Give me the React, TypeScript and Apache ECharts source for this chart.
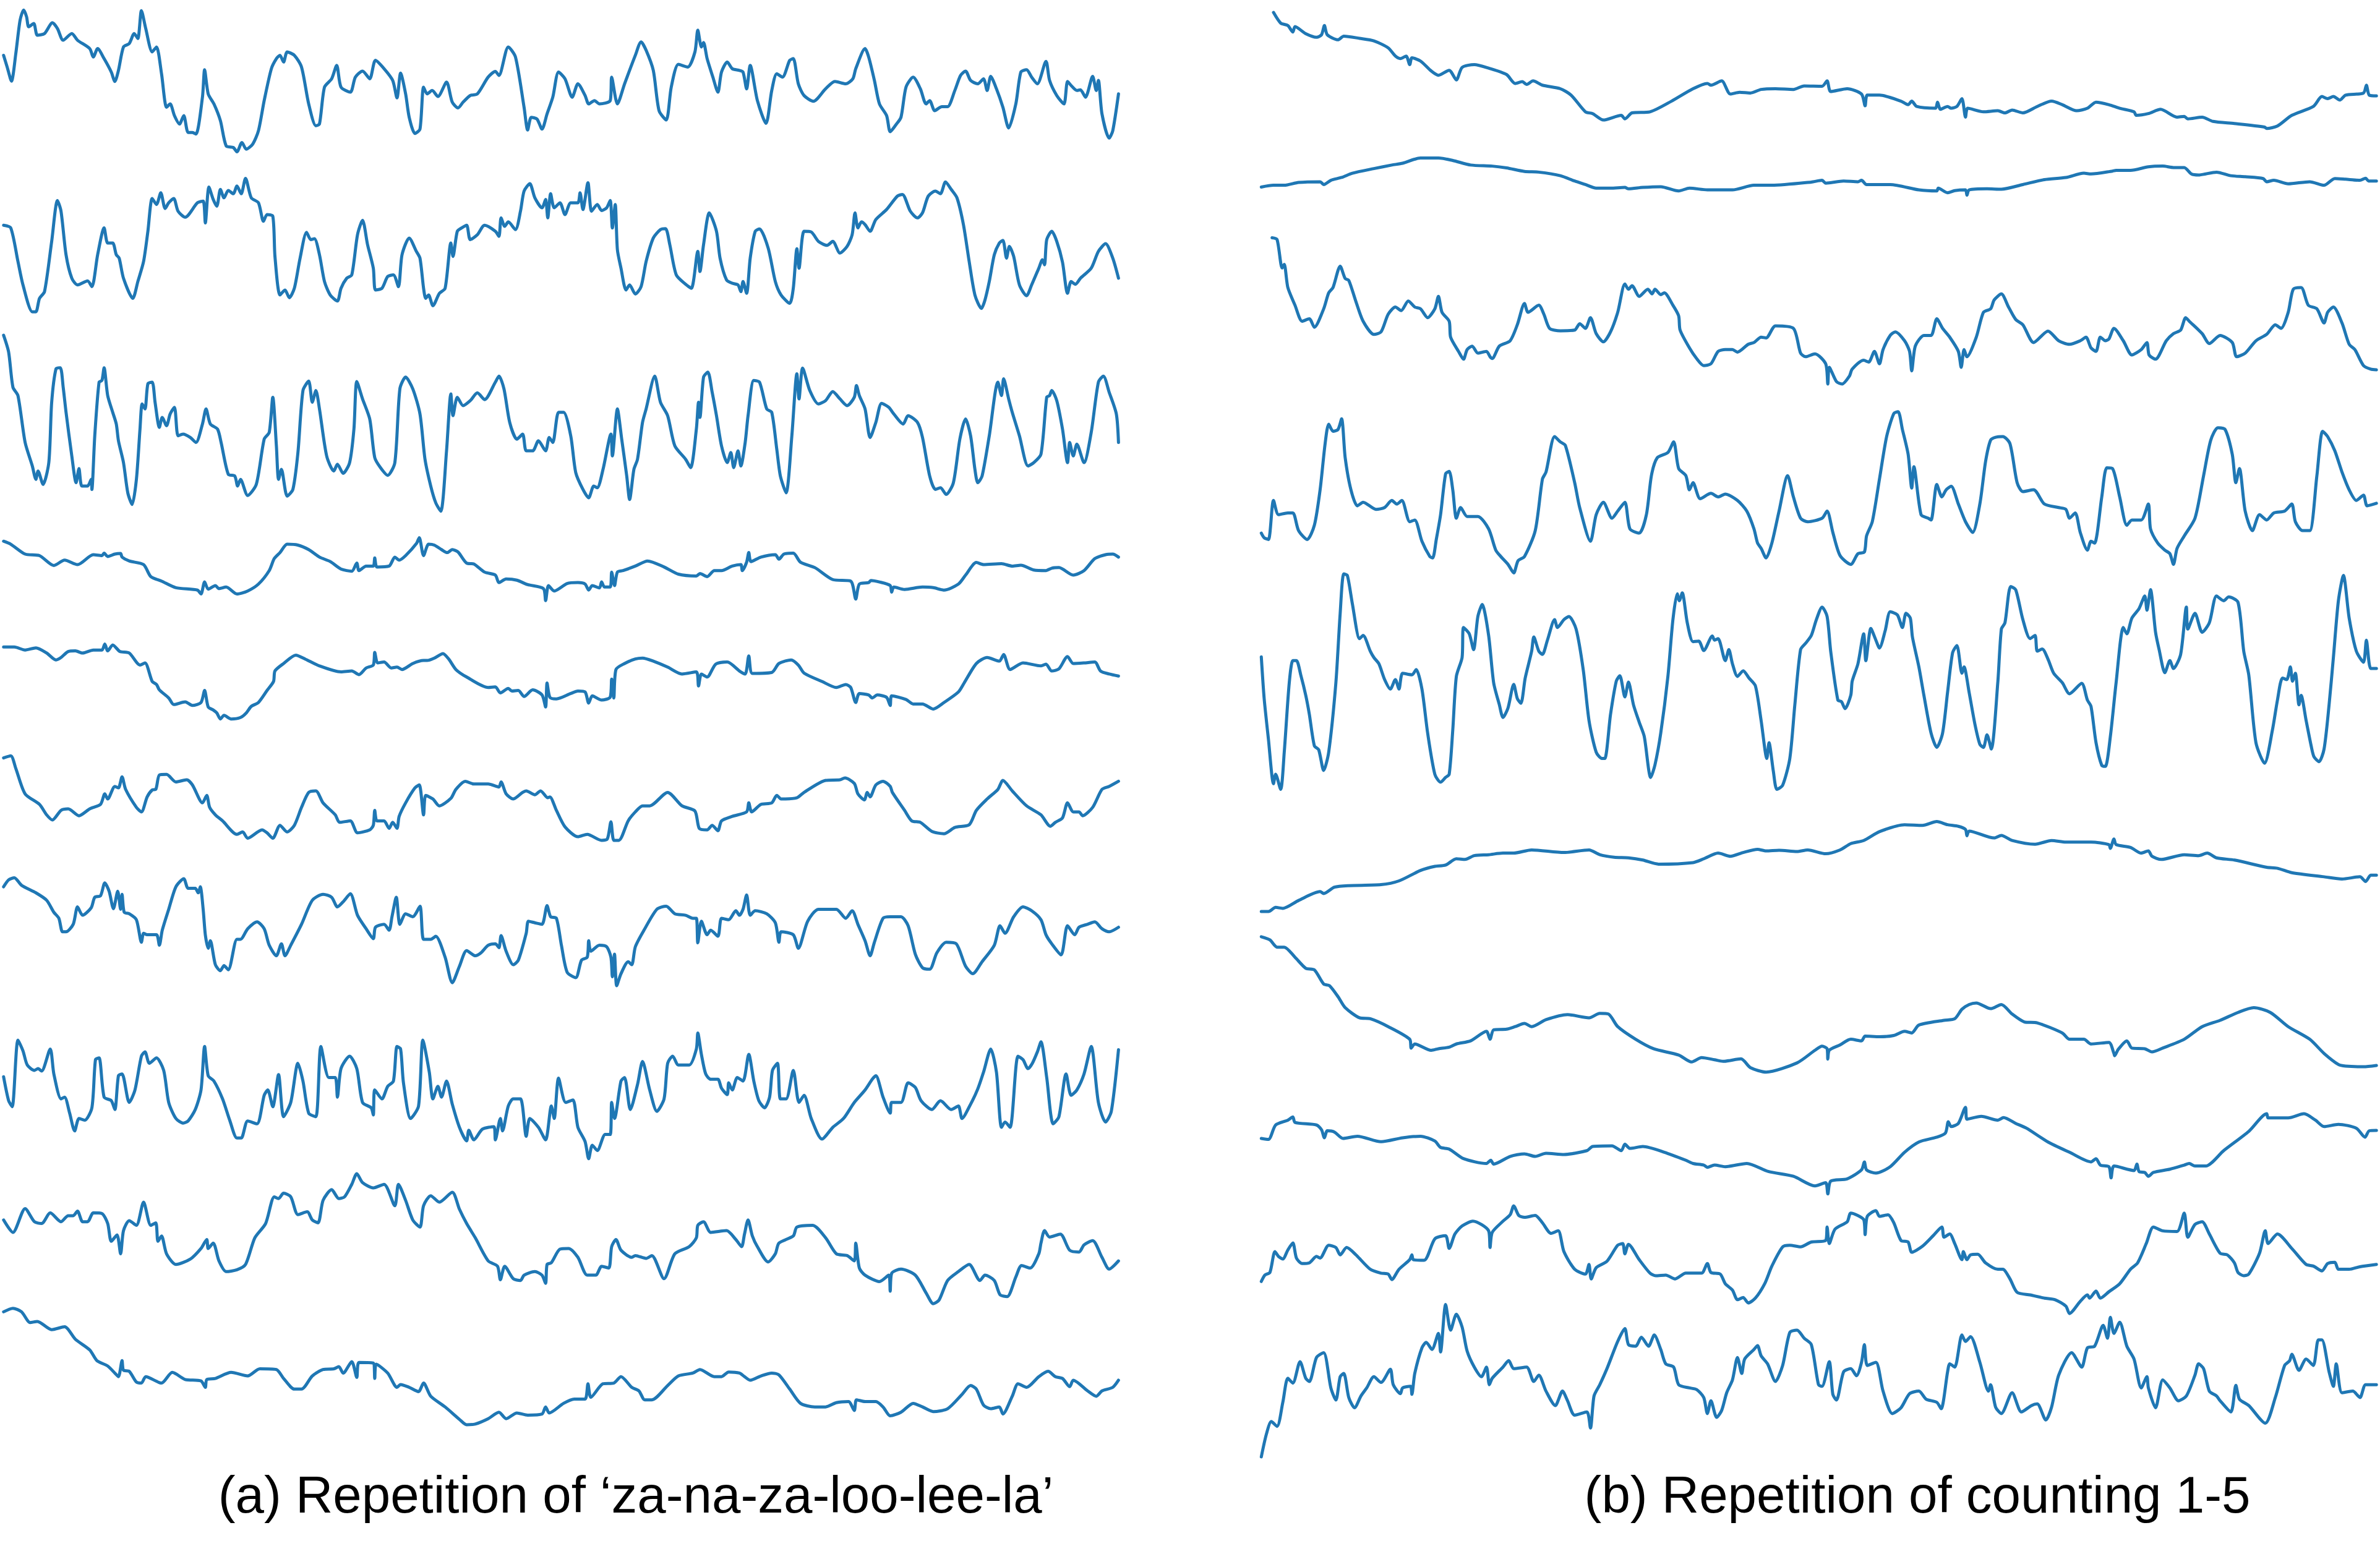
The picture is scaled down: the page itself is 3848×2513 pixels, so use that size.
import React, { useEffect, useRef } from "react";
import * as echarts from "echarts";

// Each trace: [time, deflection] pairs. Deflection grows downward (inverted axis).
const a1 = [[5,165],[10,200],[16,242],[22,160],[28,60],[33,30],[37,50],[40,80],[47,70],[52,105],[62,100],[73,68],[80,85],[88,120],[100,100],[108,120],[125,145],[130,170],[136,145],[145,175],[155,215],[160,243],[165,210],[172,140],[180,130],[187,100],[192,115],[197,32],[203,85],[212,155],[218,140],[225,220],[232,320],[237,310],[243,345],[250,370],[256,345],[262,395],[268,395],[273,400],[282,290],[285,208],[290,280],[298,310],[307,360],[315,435],[325,440],[330,453],[337,425],[343,445],[352,430],[360,390],[368,300],[378,205],[385,175],[390,165],[395,185],[400,155],[410,165],[420,200],[430,310],[440,375],[445,370],[452,260],[462,235],[469,195],[475,260],[488,275],[495,230],[505,212],[515,235],[523,180],[535,205],[547,240],[553,292],[558,218],[565,280],[570,350],[578,398],[585,385],[590,260],[595,280],[602,270],[610,288],[622,245],[630,305],[638,322],[645,305],[655,285],[665,280],[680,230],[690,213],[695,225],[708,140],[718,170],[730,320],[735,388],[740,350],[748,355],[755,385],[762,340],[770,290],[778,215],[787,235],[797,290],[805,250],[815,285],[820,310],[828,300],[835,310],[850,300],[852,230],[860,310],[870,250],[885,165],[893,125],[900,150],[910,210],[918,330],[928,358],[935,260],[945,192],[958,200],[968,155],[972,90],[977,140],[980,127],[985,175],[993,230],[1000,275],[1005,215],[1013,185],[1020,205],[1030,210],[1035,215],[1040,265],[1045,195],[1055,300],[1067,368],[1075,270],[1082,220],[1090,230],[1100,180],[1105,175],[1112,250],[1120,285],[1133,302],[1150,265],[1163,243],[1178,250],[1188,235],[1192,205],[1205,145],[1210,170],[1218,240],[1225,310],[1235,345],[1240,393],[1248,372],[1255,350],[1262,260],[1272,230],[1282,265],[1290,310],[1295,300],[1302,330],[1312,318],[1320,318],[1330,270],[1338,225],[1345,212],[1352,240],[1362,250],[1370,235],[1375,270],[1380,228],[1388,265],[1397,320],[1405,382],[1415,310],[1422,215],[1430,208],[1437,230],[1445,250],[1457,183],[1462,240],[1472,285],[1482,310],[1487,243],[1492,255],[1500,270],[1505,268],[1512,290],[1522,228],[1527,270],[1530,240],[1535,340],[1545,412],[1550,390],[1558,280]];
const a2 = [[5,672],[15,680],[25,780],[32,850],[45,930],[50,930],[55,890],[62,870],[72,720],[80,598],[85,630],[92,760],[100,830],[108,850],[122,838],[128,855],[136,760],[145,680],[150,725],[157,725],[162,760],[166,770],[172,830],[185,890],[192,840],[200,780],[206,690],[212,592],[218,610],[224,575],[230,622],[235,605],[242,592],[248,630],[258,648],[275,605],[283,600],[286,665],[291,558],[297,595],[302,615],[307,565],[312,590],[318,568],[325,578],[330,555],[336,578],[342,532],[350,590],[360,605],[367,660],[372,640],[380,645],[383,765],[390,880],[397,865],[403,888],[410,860],[418,770],[427,693],[433,715],[438,712],[445,760],[452,840],[460,880],[470,898],[475,860],[483,830],[490,820],[498,700],[505,657],[512,730],[520,800],[523,865],[532,860],[540,825],[548,820],[555,855],[560,760],[570,710],[580,750],[585,770],[590,860],[593,890],[597,880],[603,912],[612,875],[620,860],[628,725],[631,765],[637,690],[643,680],[650,672],[655,715],[665,700],[675,672],[690,690],[695,705],[698,650],[703,675],[708,662],[718,685],[725,630],[730,570],[738,548],[745,590],[755,620],[760,595],[763,650],[767,578],[772,620],[780,605],[787,640],[795,605],[805,605],[808,575],[812,625],[819,545],[824,630],[832,610],[838,628],[845,620],[850,598],[853,680],[857,610],[860,745],[865,800],[872,865],[877,850],[885,877],[893,855],[900,780],[910,710],[920,685],[927,682],[933,730],[942,820],[955,848],[963,860],[972,750],[975,810],[980,730],[988,635],[998,690],[1003,770],[1012,835],[1020,845],[1028,850],[1032,870],[1035,840],[1040,875],[1045,770],[1052,690],[1058,683],[1070,740],[1080,840],[1088,880],[1100,905],[1105,860],[1110,742],[1113,800],[1120,690],[1130,692],[1140,720],[1152,732],[1160,720],[1170,755],[1180,735],[1187,700],[1191,635],[1195,680],[1200,662],[1205,670],[1212,690],[1220,655],[1235,625],[1250,585],[1257,580],[1268,630],[1278,650],[1285,635],[1293,585],[1303,570],[1310,578],[1317,543],[1325,565],[1333,590],[1342,670],[1350,780],[1358,880],[1367,920],[1372,895],[1378,840],[1385,760],[1392,725],[1397,717],[1402,770],[1406,735],[1412,765],[1420,850],[1430,882],[1437,850],[1447,800],[1452,775],[1455,790],[1458,715],[1465,690],[1472,720],[1480,782],[1487,875],[1492,840],[1498,848],[1505,830],[1520,800],[1530,750],[1540,727],[1550,770],[1558,830]];
const a3 = [[5,1000],[12,1050],[18,1155],[25,1180],[35,1320],[45,1390],[50,1430],[53,1405],[60,1445],[68,1380],[72,1200],[78,1100],[84,1097],[88,1155],[92,1230],[100,1360],[106,1440],[110,1398],[114,1450],[122,1450],[127,1430],[128,1460],[132,1300],[138,1140],[142,1135],[145,1097],[150,1180],[157,1230],[162,1265],[165,1315],[172,1380],[178,1470],[184,1505],[190,1430],[195,1280],[198,1205],[202,1220],[206,1145],[212,1140],[216,1200],[222,1275],[226,1245],[232,1270],[237,1235],[243,1215],[248,1300],[255,1295],[265,1305],[273,1320],[282,1265],[287,1220],[293,1265],[303,1280],[308,1320],[318,1415],[327,1420],[331,1450],[335,1430],[345,1478],[357,1445],[368,1310],[375,1290],[380,1185],[385,1330],[388,1430],[392,1400],[400,1480],[408,1460],[415,1350],[422,1165],[430,1137],[435,1200],[440,1165],[445,1220],[455,1360],[465,1405],[470,1385],[478,1412],[487,1380],[493,1280],[497,1138],[505,1190],[515,1250],[522,1365],[530,1395],[540,1418],[550,1380],[557,1160],[565,1125],[575,1160],[585,1235],[592,1370],[600,1450],[607,1500],[614,1525],[622,1345],[628,1175],[631,1240],[637,1185],[645,1210],[655,1195],[665,1172],[675,1192],[690,1140],[695,1122],[702,1160],[710,1260],[720,1310],[728,1295],[733,1345],[742,1345],[750,1315],[760,1345],[765,1305],[770,1320],[778,1230],[785,1230],[795,1300],[802,1410],[812,1460],[820,1485],[827,1450],[832,1455],[840,1400],[851,1295],[853,1360],[860,1220],[866,1310],[873,1420],[877,1490],[883,1400],[888,1370],[895,1260],[900,1220],[912,1122],[920,1200],[930,1240],[940,1330],[955,1370],[962,1395],[970,1280],[973,1200],[975,1245],[980,1125],[986,1110],[992,1170],[998,1240],[1005,1330],[1013,1380],[1018,1350],[1022,1395],[1028,1345],[1032,1390],[1038,1320],[1042,1240],[1050,1135],[1058,1140],[1068,1220],[1075,1230],[1082,1340],[1087,1420],[1095,1470],[1103,1300],[1110,1115],[1113,1190],[1118,1098],[1128,1165],[1140,1205],[1150,1195],[1160,1168],[1170,1190],[1180,1210],[1190,1185],[1193,1150],[1197,1180],[1205,1220],[1212,1305],[1220,1260],[1228,1203],[1238,1215],[1245,1235],[1258,1265],[1265,1240],[1278,1260],[1285,1305],[1295,1420],[1303,1460],[1310,1455],[1318,1475],[1328,1440],[1337,1310],[1345,1250],[1352,1300],[1358,1400],[1362,1440],[1368,1420],[1378,1300],[1390,1140],[1395,1180],[1398,1130],[1405,1190],[1410,1230],[1420,1300],[1432,1390],[1440,1380],[1450,1355],[1458,1185],[1462,1180],[1465,1165],[1472,1195],[1480,1280],[1487,1380],[1490,1320],[1495,1360],[1500,1325],[1510,1380],[1520,1290],[1530,1140],[1537,1122],[1545,1170],[1555,1235],[1558,1320]];
const a4 = [[5,52],[15,62],[35,95],[55,100],[75,133],[90,115],[108,130],[130,97],[142,100],[145,92],[150,103],[160,95],[168,93],[170,105],[180,118],[200,130],[210,170],[225,185],[245,207],[275,215],[280,228],[285,188],[290,212],[300,200],[305,210],[315,205],[330,228],[345,218],[360,195],[375,150],[382,110],[390,90],[400,62],[415,65],[430,80],[445,105],[460,120],[475,145],[490,152],[497,125],[500,150],[510,135],[520,135],[522,108],[525,138],[542,135],[550,105],[556,115],[565,100],[580,60],[584,40],[590,100],[597,62],[605,65],[615,80],[623,90],[630,80],[638,88],[650,125],[660,128],[675,155],[690,165],[695,190],[705,178],[720,182],[735,197],[757,210],[760,250],[764,200],[772,218],[790,193],[805,190],[815,195],[820,215],[825,200],[835,208],[838,188],[842,205],[850,205],[852,155],[856,200],[860,155],[868,150],[885,135],[902,118],[925,138],[945,162],[970,168],[975,160],[985,170],[995,150],[1005,150],[1020,135],[1032,130],[1034,150],[1040,122],[1043,90],[1046,120],[1060,105],[1080,97],[1085,112],[1092,95],[1105,92],[1115,122],[1135,140],[1160,180],[1185,185],[1192,245],[1197,195],[1210,190],[1213,183],[1225,188],[1240,200],[1242,222],[1245,205],[1260,213],[1285,205],[1300,207],[1315,215],[1335,195],[1345,165],[1360,123],[1370,130],[1395,127],[1410,135],[1422,132],[1440,148],[1457,150],[1465,142],[1475,140],[1495,165],[1510,150],[1525,110],[1540,97],[1550,95],[1558,105]];
const a5 = [[5,405],[20,405],[35,415],[50,408],[65,425],[78,448],[85,440],[95,420],[105,418],[115,425],[130,415],[142,415],[146,395],[150,418],[157,398],[167,420],[180,425],[195,465],[202,458],[212,520],[218,530],[222,548],[235,575],[242,597],[258,588],[268,600],[280,590],[285,550],[290,605],[297,615],[302,625],[307,645],[312,633],[322,645],[335,640],[343,625],[350,603],[360,590],[372,550],[381,520],[383,485],[395,460],[412,432],[425,445],[445,468],[475,488],[490,485],[500,497],[510,475],[520,465],[522,423],[526,458],[535,455],[545,475],[553,472],[560,480],[575,460],[590,450],[595,450],[605,442],[617,427],[625,445],[635,480],[650,505],[680,540],[690,538],[697,558],[708,543],[713,552],[722,550],[730,570],[742,548],[755,565],[760,605],[762,525],[766,573],[775,578],[795,560],[805,552],[815,555],[820,592],[825,568],[838,582],[850,572],[852,512],[855,575],[858,480],[870,460],[885,445],[895,442],[910,452],[930,472],[950,495],[970,488],[973,535],[977,495],[985,505],[997,462],[1013,455],[1030,485],[1038,495],[1043,435],[1048,493],[1075,490],[1085,460],[1102,448],[1112,465],[1120,492],[1145,520],[1165,540],[1178,530],[1185,540],[1192,590],[1197,560],[1210,565],[1215,575],[1222,565],[1235,573],[1240,600],[1242,568],[1262,580],[1272,595],[1285,595],[1300,612],[1315,590],[1335,555],[1343,525],[1360,460],[1375,440],[1392,452],[1398,430],[1407,480],[1425,458],[1450,468],[1457,462],[1465,485],[1475,478],[1487,437],[1495,460],[1510,458],[1525,455],[1533,485],[1545,495],[1558,502]];
const a6 = [[5,775],[15,768],[22,810],[35,895],[55,930],[65,965],[73,982],[85,950],[95,945],[110,968],[125,945],[140,930],[146,895],[150,912],[160,870],[165,875],[170,838],[175,880],[190,940],[197,955],[205,905],[212,882],[217,880],[222,832],[232,830],[245,855],[260,848],[268,865],[282,925],[288,900],[292,940],[300,965],[310,985],[330,1030],[338,1022],[345,1043],[365,1015],[372,1025],[380,1043],[390,1000],[400,1022],[410,1000],[420,940],[430,890],[440,885],[450,925],[467,965],[473,990],[488,985],[498,1025],[515,1015],[520,1000],[522,950],[525,985],[535,985],[542,1010],[547,990],[553,1010],[556,970],[565,925],[578,875],[584,865],[590,965],[593,900],[603,912],[612,935],[628,910],[635,880],[648,853],[660,862],[680,862],[695,872],[698,855],[705,895],[715,912],[728,890],[733,885],[745,898],[753,885],[763,908],[766,905],[775,950],[787,1005],[805,1038],[818,1030],[838,1050],[846,1045],[851,988],[855,1050],[862,1050],[875,985],[885,955],[895,935],[905,935],[930,890],[950,935],[968,952],[974,1010],[985,1015],[992,1000],[1000,1018],[1005,985],[1020,970],[1040,955],[1043,925],[1047,955],[1060,930],[1075,925],[1082,900],[1088,912],[1110,908],[1120,890],[1150,850],[1170,848],[1177,842],[1190,860],[1195,895],[1204,915],[1208,890],[1212,905],[1220,865],[1230,853],[1240,870],[1243,890],[1260,950],[1270,985],[1282,990],[1298,1020],[1315,1028],[1330,1007],[1350,998],[1360,950],[1375,912],[1390,880],[1397,850],[1410,885],[1430,935],[1450,965],[1463,1003],[1470,990],[1480,975],[1487,925],[1495,955],[1503,955],[1508,968],[1522,940],[1535,880],[1545,870],[1558,853]];
const a7 = [[5,1205],[12,1182],[20,1175],[30,1200],[50,1225],[65,1250],[75,1290],[82,1310],[87,1355],[92,1355],[102,1330],[108,1272],[115,1300],[127,1275],[132,1240],[140,1235],[146,1192],[152,1220],[158,1278],[164,1220],[168,1280],[170,1230],[173,1290],[180,1295],[190,1315],[197,1390],[200,1360],[205,1365],[218,1365],[222,1400],[226,1350],[235,1280],[245,1205],[256,1178],[262,1210],[272,1210],[276,1225],[279,1205],[283,1280],[286,1365],[290,1410],[293,1385],[300,1465],[307,1485],[312,1468],[318,1482],[330,1380],[335,1380],[345,1345],[358,1322],[368,1345],[375,1400],[385,1435],[392,1395],[397,1435],[405,1400],[420,1330],[435,1250],[450,1230],[462,1240],[470,1272],[478,1255],[488,1228],[498,1300],[510,1345],[520,1378],[523,1340],[535,1330],[542,1350],[546,1305],[552,1240],[557,1330],[565,1295],[575,1305],[585,1270],[590,1380],[600,1380],[607,1370],[620,1440],[630,1525],[640,1470],[650,1418],[662,1435],[670,1425],[680,1400],[690,1395],[695,1408],[698,1368],[705,1420],[715,1465],[722,1450],[733,1360],[736,1320],[745,1325],[755,1330],[762,1268],[767,1305],[775,1310],[782,1400],[790,1490],[802,1508],[810,1450],[818,1440],[820,1385],[823,1420],[835,1400],[845,1405],[851,1440],[853,1505],[856,1430],[859,1535],[865,1495],[875,1455],[880,1465],[885,1405],[897,1350],[915,1280],[928,1270],[940,1295],[955,1300],[965,1310],[970,1310],[972,1392],[977,1320],[985,1365],[990,1350],[1000,1370],[1005,1310],[1015,1315],[1025,1285],[1030,1300],[1035,1280],[1040,1232],[1045,1300],[1052,1285],[1068,1295],[1080,1325],[1085,1390],[1088,1355],[1105,1365],[1112,1410],[1125,1320],[1140,1280],[1165,1280],[1178,1310],[1187,1285],[1195,1330],[1205,1385],[1212,1435],[1218,1390],[1230,1310],[1240,1305],[1255,1305],[1265,1335],[1275,1430],[1285,1475],[1295,1480],[1305,1425],[1318,1390],[1332,1395],[1345,1470],[1355,1495],[1368,1455],[1385,1400],[1393,1335],[1400,1360],[1412,1305],[1425,1272],[1437,1285],[1450,1315],[1457,1365],[1465,1395],[1478,1432],[1487,1335],[1497,1365],[1503,1340],[1515,1330],[1525,1322],[1535,1345],[1545,1355],[1558,1340]];
const a8 = [[5,228],[12,295],[17,312],[25,125],[32,155],[38,195],[48,210],[53,205],[58,212],[70,150],[75,220],[85,290],[90,285],[97,330],[104,380],[110,345],[118,350],[128,315],[133,180],[138,175],[145,285],[155,295],[160,320],[165,225],[170,220],[180,300],[188,265],[197,170],[202,158],[208,190],[218,175],[228,210],[235,300],[245,345],[255,358],[262,352],[272,320],[280,265],[285,143],[290,225],[298,240],[310,290],[320,350],[330,400],[336,400],[345,352],[358,360],[368,280],[373,265],[380,312],[388,222],[395,340],[405,300],[415,190],[422,240],[430,330],[440,340],[447,143],[458,230],[467,230],[470,285],[475,205],[487,170],[497,205],[505,300],[517,315],[520,335],[522,265],[532,290],[540,255],[548,240],[553,143],[558,150],[562,245],[572,345],[583,310],[589,125],[598,215],[603,290],[610,255],[615,285],[622,240],[630,305],[640,370],[650,408],[653,378],[660,405],[672,375],[688,368],[690,405],[697,345],[700,380],[708,310],[715,290],[725,290],[733,395],[738,345],[750,370],[760,405],[768,310],[772,345],[778,232],[788,300],[798,293],[805,370],[815,410],[820,458],[825,420],[832,435],[843,390],[850,390],[852,300],[856,345],[865,240],[870,230],[878,320],[888,250],[895,185],[905,265],[915,325],[925,290],[930,190],[937,170],[945,195],[960,195],[970,150],[972,105],[977,165],[983,220],[990,235],[1000,235],[1005,260],[1013,278],[1015,245],[1020,265],[1027,230],[1035,240],[1043,165],[1050,240],[1057,295],[1065,315],[1072,285],[1076,210],[1083,190],[1087,290],[1095,290],[1105,210],[1113,300],[1120,280],[1130,345],[1145,403],[1160,370],[1175,345],[1190,300],[1205,265],[1215,235],[1220,225],[1230,285],[1240,330],[1242,300],[1255,300],[1265,245],[1275,258],[1283,295],[1298,320],[1310,295],[1325,320],[1335,310],[1340,345],[1352,305],[1362,262],[1370,215],[1380,150],[1388,215],[1395,370],[1400,355],[1407,370],[1418,170],[1425,180],[1432,205],[1438,190],[1445,158],[1450,130],[1458,230],[1467,360],[1475,340],[1485,220],[1492,280],[1500,265],[1510,220],[1520,143],[1530,300],[1540,355],[1548,325],[1558,152]];
const a9 = [[5,630],[18,665],[35,598],[48,635],[58,640],[70,610],[85,635],[95,618],[102,618],[108,605],[115,635],[122,635],[130,610],[142,612],[150,640],[155,690],[163,672],[168,725],[172,660],[180,632],[190,645],[200,580],[210,645],[217,638],[220,690],[225,675],[232,725],[245,755],[265,740],[280,710],[288,685],[290,710],[297,695],[305,745],[315,775],[330,770],[342,755],[355,680],[370,640],[382,565],[388,570],[395,555],[405,565],[415,615],[428,607],[435,630],[443,638],[450,575],[462,545],[472,570],[480,565],[490,530],[497,500],[505,525],[520,540],[535,530],[550,590],[555,530],[565,575],[575,630],[585,650],[590,590],[600,562],[612,580],[630,552],[640,600],[650,640],[662,680],[680,745],[693,760],[697,798],[703,760],[715,795],[725,800],[730,785],[745,775],[755,785],[760,808],[762,755],[768,750],[780,712],[792,710],[805,735],[818,785],[830,785],[838,760],[848,765],[852,705],[858,685],[865,715],[880,735],[885,730],[900,738],[908,730],[925,795],[940,725],[960,705],[970,680],[972,645],[980,635],[990,665],[1012,660],[1025,685],[1033,705],[1037,670],[1042,630],[1048,675],[1055,705],[1070,748],[1080,725],[1085,695],[1105,675],[1110,650],[1132,645],[1150,680],[1165,725],[1180,730],[1190,745],[1192,695],[1197,765],[1205,785],[1225,803],[1238,785],[1240,830],[1242,780],[1255,768],[1275,785],[1290,835],[1300,865],[1308,855],[1320,800],[1335,775],[1350,755],[1365,800],[1372,785],[1385,800],[1393,840],[1403,845],[1415,790],[1423,758],[1435,765],[1447,725],[1450,695],[1455,660],[1462,678],[1477,670],[1490,715],[1503,720],[1510,700],[1522,688],[1535,735],[1545,768],[1558,745]];
const a10 = [[5,888],[18,878],[30,888],[42,918],[52,915],[72,938],[90,930],[105,965],[125,995],[135,1025],[150,1040],[160,1060],[165,1070],[170,1025],[172,1052],[180,1055],[190,1085],[197,1088],[203,1070],[225,1088],[240,1058],[258,1078],[280,1082],[286,1100],[288,1078],[300,1075],[322,1058],[345,1068],[362,1048],[385,1050],[395,1075],[410,1105],[420,1105],[435,1068],[450,1050],[465,1048],[472,1042],[478,1060],[490,1028],[497,1072],[500,1030],[520,1032],[522,1075],[524,1035],[540,1060],[553,1100],[558,1092],[570,1100],[583,1112],[590,1088],[600,1125],[620,1155],[640,1190],[650,1205],[662,1203],[680,1188],[695,1170],[705,1188],[720,1172],[735,1178],[755,1175],[760,1155],[765,1172],[785,1145],[800,1133],[815,1133],[819,1090],[823,1128],[840,1090],[855,1088],[865,1070],[880,1100],[890,1110],[898,1135],[908,1135],[930,1095],[945,1068],[965,1060],[975,1050],[995,1070],[1005,1070],[1015,1057],[1030,1060],[1037,1070],[1045,1080],[1060,1068],[1075,1060],[1085,1065],[1100,1105],[1115,1145],[1135,1155],[1150,1155],[1165,1143],[1182,1140],[1190,1165],[1193,1135],[1205,1140],[1220,1140],[1230,1155],[1240,1180],[1255,1170],[1272,1145],[1285,1155],[1300,1168],[1320,1160],[1340,1120],[1352,1095],[1360,1105],[1370,1150],[1380,1160],[1392,1155],[1397,1175],[1410,1125],[1418,1090],[1430,1100],[1447,1070],[1460,1055],[1470,1070],[1480,1075],[1490,1098],[1495,1080],[1515,1110],[1527,1125],[1535,1110],[1550,1100],[1558,1080]];
const b1 = [[25,35],[35,65],[45,72],[52,90],[55,75],[70,95],[85,105],[92,98],[96,72],[100,98],[115,112],[123,102],[145,108],[165,115],[185,135],[195,158],[202,165],[210,158],[215,182],[218,163],[230,172],[245,200],[255,212],[270,198],[280,225],[288,190],[305,182],[325,192],[350,210],[362,235],[372,230],[378,238],[387,228],[400,240],[425,250],[440,268],[460,315],[470,320],[485,338],[510,325],[515,335],[525,318],[550,315],[580,285],[610,250],[630,235],[635,240],[650,228],[662,265],[675,260],[690,262],[705,252],[725,250],[750,252],[765,242],[790,243],[797,228],[802,258],[825,250],[845,265],[850,298],[853,268],[870,268],[900,285],[910,295],[915,285],[922,300],[948,305],[951,288],[955,308],[965,300],[970,305],[978,300],[985,278],[990,330],[993,305],[1015,315],[1035,312],[1045,318],[1055,310],[1070,318],[1090,300],[1110,285],[1125,295],[1145,312],[1160,305],[1172,288],[1190,295],[1205,305],[1225,315],[1228,325],[1245,320],[1262,308],[1285,330],[1295,328],[1300,335],[1320,330],[1335,342],[1365,348],[1407,358],[1410,362],[1425,355],[1445,325],[1475,300],[1487,272],[1495,278],[1503,272],[1512,282],[1520,268],[1545,262],[1549,240],[1553,268],[1563,270]];
const b2 = [[8,527],[25,522],[40,522],[60,514],[90,512],[95,520],[105,508],[120,500],[135,488],[165,475],[190,465],[205,460],[230,445],[255,445],[275,452],[300,465],[330,468],[350,473],[375,483],[395,485],[425,495],[445,510],[460,520],[475,530],[495,530],[515,528],[520,532],[540,528],[565,526],[590,538],[605,530],[630,535],[665,535],[695,522],[720,522],[775,513],[790,508],[795,516],[820,510],[840,512],[845,508],[852,520],[885,520],[925,535],[950,538],[952,530],[965,543],[975,537],[990,535],[992,550],[995,535],[1020,532],[1040,533],[1070,520],[1100,506],[1130,500],[1155,488],[1165,490],[1195,482],[1200,480],[1220,480],[1245,470],[1265,468],[1280,472],[1295,472],[1305,490],[1315,493],[1340,485],[1360,495],[1380,498],[1405,503],[1410,512],[1420,508],[1440,518],[1470,512],[1490,522],[1505,503],[1520,505],[1540,508],[1548,502],[1552,510],[1563,510]];
const b3 = [[23,670],[30,675],[37,755],[40,745],[45,810],[55,860],[65,905],[75,898],[82,922],[95,870],[102,825],[108,810],[118,750],[125,785],[130,790],[140,850],[150,905],[165,942],[175,935],[185,885],[195,865],[203,875],[213,848],[222,865],[230,870],[240,895],[250,870],[255,835],[260,880],[270,905],[272,950],[283,990],[290,1012],[295,985],[302,975],[310,995],[322,990],[327,1005],[330,1010],[340,975],[355,960],[365,915],[375,855],[380,880],[395,860],[402,885],[410,925],[425,932],[445,930],[452,912],[460,925],[467,895],[475,940],[485,963],[495,935],[505,880],[515,800],[520,815],[525,805],[535,835],[547,815],[553,828],[557,815],[565,830],[570,825],[582,860],[590,890],[592,930],[605,980],[615,1010],[625,1030],[635,1025],[645,990],[655,985],[665,985],[672,992],[687,970],[695,965],[705,950],[712,952],[725,918],[750,925],[760,995],[767,1005],[780,997],[795,1025],[798,1082],[800,1035],[810,1075],[818,1082],[828,1060],[832,1040],[848,1015],[855,1020],[863,990],[870,1025],[875,985],[885,945],[892,935],[905,960],[912,990],[915,1045],[920,975],[932,945],[942,945],[950,898],[958,925],[968,950],[980,990],[984,1035],[988,985],[992,1005],[1005,950],[1015,880],[1025,870],[1030,845],[1040,828],[1050,865],[1060,900],[1070,915],[1085,965],[1105,933],[1120,960],[1135,970],[1150,960],[1158,950],[1165,980],[1172,990],[1178,950],[1185,960],[1190,955],[1197,925],[1210,960],[1222,1000],[1235,985],[1243,965],[1246,1000],[1255,1012],[1270,960],[1280,940],[1290,930],[1297,895],[1302,905],[1320,940],[1330,968],[1345,945],[1362,965],[1368,1005],[1380,995],[1395,960],[1410,942],[1422,915],[1430,925],[1440,880],[1447,815],[1458,810],[1468,860],[1480,870],[1490,910],[1495,880],[1503,865],[1515,910],[1525,970],[1533,985],[1545,1030],[1555,1040],[1563,1042]];
const b4 = [[8,1502],[12,1515],[18,1520],[25,1410],[32,1450],[45,1445],[52,1445],[60,1495],[72,1520],[82,1480],[90,1380],[97,1250],[102,1195],[108,1215],[115,1210],[120,1180],[125,1290],[133,1380],[142,1425],[150,1415],[168,1435],[180,1430],[190,1410],[197,1420],[204,1410],[215,1470],[222,1465],[232,1525],[243,1568],[247,1572],[252,1520],[258,1450],[265,1335],[270,1328],[275,1380],[280,1460],[286,1430],[295,1455],[310,1455],[325,1490],[335,1550],[342,1568],[352,1590],[360,1614],[366,1580],[375,1568],[390,1495],[400,1350],[405,1330],[417,1230],[425,1245],[432,1255],[445,1360],[452,1430],[467,1525],[475,1450],[485,1415],[497,1460],[505,1440],[515,1415],[522,1490],[535,1502],[545,1450],[552,1340],[560,1290],[575,1275],[583,1245],[590,1320],[600,1340],[605,1380],[610,1360],[620,1405],[635,1390],[645,1400],[655,1392],[672,1410],[685,1440],[695,1490],[700,1530],[705,1545],[712,1572],[720,1530],[730,1440],[742,1340],[750,1400],[760,1460],[770,1470],[790,1460],[797,1440],[805,1500],[815,1565],[830,1590],[840,1560],[849,1555],[852,1510],[860,1470],[870,1350],[880,1230],[890,1165],[896,1160],[902,1210],[910,1280],[915,1375],[918,1315],[928,1450],[938,1460],[942,1465],[950,1365],[957,1400],[963,1380],[970,1370],[980,1420],[990,1470],[1000,1500],[1010,1420],[1018,1300],[1025,1240],[1032,1232],[1042,1230],[1052,1250],[1062,1360],[1070,1385],[1085,1380],[1100,1420],[1120,1430],[1130,1435],[1135,1460],[1143,1445],[1150,1500],[1160,1550],[1165,1525],[1170,1530],[1180,1400],[1187,1318],[1195,1320],[1205,1400],[1215,1480],[1222,1465],[1235,1465],[1245,1420],[1248,1490],[1258,1530],[1268,1550],[1275,1560],[1280,1590],[1285,1545],[1295,1510],[1310,1460],[1322,1340],[1332,1240],[1342,1205],[1352,1210],[1362,1280],[1367,1360],[1372,1320],[1380,1440],[1390,1495],[1400,1450],[1410,1465],[1420,1445],[1435,1440],[1445,1420],[1450,1470],[1460,1495],[1470,1495],[1480,1340],[1488,1215],[1495,1230],[1505,1270],[1515,1330],[1525,1380],[1535,1410],[1545,1395],[1550,1425],[1563,1418]];
const b5 = [[8,318],[12,450],[18,580],[25,720],[28,690],[35,738],[40,620],[47,400],[52,330],[57,330],[63,375],[70,440],[75,500],[82,600],[88,612],[95,678],[102,620],[112,400],[118,180],[123,55],[128,60],[135,150],[145,260],[150,250],[160,300],[165,320],[172,340],[180,390],[188,420],[195,390],[200,420],[205,370],[218,375],[224,358],[232,420],[240,560],[250,690],[258,715],[265,700],[270,690],[275,550],[280,380],[288,320],[290,225],[298,245],[304,295],[310,190],[316,152],[325,250],[332,400],[340,470],[345,510],[352,480],[360,405],[365,450],[370,465],[376,385],[385,300],[388,255],[395,300],[400,310],[407,265],[417,200],[421,225],[430,200],[437,190],[447,230],[457,360],[465,520],[475,620],[483,640],[487,640],[495,500],[503,395],[508,378],[515,445],[520,398],[527,470],[535,525],[542,570],[551,700],[557,660],[565,560],[575,380],[582,200],[588,118],[591,140],[595,115],[602,210],[610,270],[618,268],[625,298],[637,252],[640,265],[645,260],[655,330],[660,295],[665,340],[672,380],[680,362],[688,385],[697,410],[705,520],[713,640],[716,590],[722,680],[727,738],[735,725],[745,640],[752,470],[760,295],[767,275],[775,250],[782,200],[790,160],[797,190],[802,300],[812,455],[817,460],[822,482],[830,440],[832,395],[840,340],[848,245],[851,330],[858,228],[865,265],[870,290],[878,235],[885,175],[895,185],[902,225],[907,180],[913,195],[916,255],[925,350],[932,440],[942,560],[950,605],[958,560],[965,430],[972,305],[978,282],[985,370],[988,350],[995,430],[1003,530],[1010,595],[1015,605],[1020,565],[1026,610],[1035,400],[1040,230],[1045,210],[1053,95],[1060,105],[1070,200],[1080,260],[1087,250],[1090,300],[1097,293],[1105,325],[1113,370],[1125,400],[1135,435],[1152,402],[1160,455],[1165,475],[1172,590],[1180,662],[1185,665],[1192,570],[1200,400],[1210,225],[1215,245],[1222,195],[1232,165],[1240,125],[1243,170],[1248,105],[1255,240],[1260,295],[1268,368],[1275,330],[1280,355],[1290,310],[1298,160],[1300,230],[1310,180],[1320,240],[1330,210],[1340,125],[1350,140],[1357,128],[1370,145],[1378,300],[1385,375],[1395,590],[1407,655],[1418,550],[1425,455],[1432,385],[1438,390],[1443,350],[1446,395],[1450,370],[1455,470],[1458,440],[1465,520],[1472,600],[1476,635],[1483,650],[1490,610],[1497,470],[1503,320],[1510,140],[1517,60],[1525,195],[1535,300],[1545,335],[1549,265],[1555,355],[1563,355]];
const b6 = [[8,1125],[18,1125],[28,1112],[38,1115],[60,1090],[90,1062],[95,1068],[110,1048],[130,1043],[175,1040],[200,1028],[230,995],[250,982],[265,978],[280,958],[292,960],[305,948],[325,945],[345,940],[360,940],[385,930],[430,938],[465,930],[480,945],[500,953],[520,955],[540,962],[562,975],[610,970],[625,958],[645,940],[662,950],[680,938],[700,928],[712,933],[730,931],[755,935],[770,930],[795,942],[815,930],[830,910],[848,900],[870,872],[905,850],[930,852],[950,840],[965,850],[980,855],[990,865],[992,885],[995,870],[1030,892],[1040,884],[1055,900],[1087,912],[1110,900],[1130,905],[1165,905],[1190,913],[1192,925],[1197,895],[1200,913],[1220,922],[1235,940],[1245,933],[1250,950],[1263,960],[1295,945],[1315,948],[1327,940],[1340,955],[1365,962],[1410,985],[1425,988],[1445,1002],[1490,1015],[1515,1022],[1540,1015],[1548,1030],[1555,1010],[1563,1010]];
const b7 = [[8,1205],[20,1215],[30,1238],[40,1238],[55,1270],[70,1305],[82,1310],[95,1355],[103,1360],[115,1395],[125,1430],[145,1462],[160,1465],[185,1490],[215,1530],[217,1558],[222,1545],[245,1565],[255,1560],[270,1555],[280,1545],[300,1535],[322,1505],[327,1530],[332,1500],[350,1498],[362,1490],[375,1480],[385,1490],[405,1468],[435,1452],[465,1462],[480,1448],[492,1450],[505,1490],[530,1530],[555,1560],[590,1580],[608,1602],[622,1588],[640,1595],[652,1600],[677,1592],[690,1620],[712,1634],[755,1605],[780,1565],[790,1552],[797,1560],[798,1593],[800,1565],[815,1548],[830,1530],[845,1535],[850,1520],[870,1522],[890,1518],[905,1505],[915,1510],[925,1485],[960,1470],[975,1465],[985,1435],[995,1420],[1005,1415],[1025,1433],[1040,1420],[1055,1450],[1072,1475],[1090,1478],[1125,1510],[1135,1530],[1155,1530],[1165,1545],[1190,1540],[1197,1575],[1198,1582],[1203,1562],[1215,1535],[1222,1558],[1240,1560],[1250,1570],[1265,1558],[1295,1530],[1320,1490],[1345,1470],[1370,1445],[1392,1430],[1415,1445],[1440,1490],[1470,1530],[1490,1575],[1510,1610],[1520,1615],[1545,1617],[1563,1613]];
const b8 = [[8,272],[18,275],[28,230],[45,215],[52,205],[55,222],[85,230],[92,245],[96,270],[100,248],[110,252],[122,272],[142,265],[175,282],[205,270],[230,265],[250,280],[258,300],[270,305],[290,335],[322,350],[328,340],[332,352],[355,328],[375,320],[390,328],[405,318],[430,322],[462,310],[470,297],[497,295],[510,310],[515,290],[522,303],[540,297],[570,315],[600,340],[610,350],[625,355],[630,362],[640,355],[655,360],[685,350],[715,375],[750,390],[780,420],[795,410],[798,445],[802,405],[825,398],[845,370],[849,345],[852,370],[865,380],[885,360],[905,315],[925,283],[950,268],[962,255],[966,220],[970,235],[980,225],[990,175],[992,212],[1012,203],[1035,215],[1043,207],[1060,225],[1075,240],[1105,283],[1135,315],[1165,345],[1172,335],[1178,355],[1190,360],[1193,395],[1197,358],[1225,372],[1229,352],[1232,375],[1240,378],[1245,390],[1252,378],[1275,368],[1295,355],[1302,350],[1310,358],[1325,358],[1350,310],[1385,250],[1410,195],[1412,208],[1440,208],[1462,195],[1478,215],[1490,235],[1510,228],[1535,240],[1547,268],[1553,248],[1563,247]];
const b9 = [[8,718],[13,698],[20,690],[27,625],[32,640],[38,648],[45,620],[52,598],[57,645],[65,662],[75,660],[85,640],[90,645],[102,605],[112,612],[118,635],[127,612],[140,635],[160,680],[175,692],[185,695],[190,712],[200,680],[215,650],[218,635],[220,650],[235,652],[250,585],[265,575],[270,615],[278,570],[288,545],[303,530],[325,560],[327,612],[330,565],[345,530],[355,510],[360,482],[367,512],[375,518],[390,512],[400,535],[412,568],[422,560],[430,625],[445,680],[460,695],[465,665],[468,710],[475,675],[490,655],[505,605],[512,600],[515,632],[520,602],[535,650],[550,692],[558,700],[572,698],[585,710],[600,692],[622,692],[630,662],[635,690],[648,695],[655,725],[665,745],[672,775],[680,768],[687,785],[697,770],[710,725],[720,670],[735,610],[745,605],[760,610],[775,595],[795,590],[797,548],[800,600],[808,555],[825,532],[830,505],[848,525],[850,572],[853,515],[865,497],[870,515],[882,510],[890,535],[900,590],[910,595],[915,627],[930,608],[945,575],[957,548],[960,580],[968,570],[975,600],[985,650],[987,625],[992,650],[997,635],[1007,633],[1018,660],[1035,680],[1042,680],[1052,710],[1062,752],[1080,760],[1100,770],[1115,775],[1130,795],[1135,818],[1150,780],[1160,760],[1163,770],[1172,748],[1178,770],[1190,750],[1205,725],[1220,680],[1230,660],[1242,600],[1252,548],[1265,560],[1285,562],[1295,505],[1300,580],[1310,540],[1320,532],[1330,570],[1345,630],[1355,635],[1365,660],[1370,690],[1378,700],[1385,695],[1400,630],[1408,560],[1412,600],[1425,570],[1445,615],[1465,665],[1475,670],[1487,685],[1495,662],[1505,658],[1510,680],[1525,680],[1540,672],[1563,665]];
const b10 = [[8,1265],[15,1195],[22,1155],[30,1170],[38,1095],[45,1020],[52,1035],[62,968],[70,1020],[75,1030],[85,955],[95,940],[105,1050],[112,1088],[118,1015],[123,1005],[130,1080],[138,1112],[147,1075],[155,1050],[165,1015],[175,1033],[188,992],[192,1040],[202,1068],[205,1050],[216,1045],[218,1070],[222,1005],[232,925],[238,908],[246,930],[255,880],[258,938],[265,790],[272,870],[280,820],[288,860],[295,935],[305,985],[315,1015],[322,985],[326,1040],[330,1020],[345,985],[353,965],[360,990],[378,985],[388,1030],[395,1010],[405,1060],[418,1105],[428,1060],[435,1090],[445,1135],[462,1125],[467,1175],[472,1075],[480,1040],[490,990],[505,905],[515,865],[520,915],[530,920],[538,892],[548,920],[556,885],[565,930],[572,975],[583,985],[590,1040],[605,1050],[615,1055],[625,1080],[630,1130],[635,1090],[643,1142],[650,1120],[657,1065],[665,1025],[672,955],[678,1005],[682,960],[695,930],[700,918],[705,950],[714,975],[725,1030],[735,980],[745,877],[755,870],[765,895],[775,915],[785,1040],[790,1045],[800,968],[805,1070],[810,1088],[820,1000],[830,990],[838,1012],[845,970],[849,915],[853,980],[865,970],[875,1060],[888,1130],[900,1112],[912,1068],[925,1060],[935,1085],[950,1095],[956,1115],[965,1000],[968,975],[975,985],[985,885],[990,905],[997,890],[1010,970],[1022,1060],[1025,1040],[1032,1110],[1040,1130],[1055,1065],[1068,1125],[1082,1105],[1090,1100],[1102,1150],[1110,1110],[1120,1010],[1138,940],[1152,985],[1160,925],[1170,920],[1182,855],[1188,895],[1192,830],[1197,880],[1205,845],[1215,920],[1225,960],[1235,1050],[1243,1015],[1245,1050],[1255,1112],[1265,1025],[1275,1050],[1287,1090],[1298,1075],[1310,1010],[1315,975],[1322,990],[1330,1060],[1340,1075],[1345,1090],[1360,1125],[1367,1042],[1372,1085],[1385,1105],[1408,1160],[1422,1080],[1435,980],[1442,965],[1445,945],[1455,995],[1465,960],[1475,980],[1482,900],[1487,900],[1497,1000],[1503,1045],[1507,975],[1515,1065],[1530,1060],[1540,1080],[1548,1040],[1563,1040]];

const captionA = "(a) Repetition of ‘za-na-za-loo-lee-la’";
const captionB = "(b) Repetition of counting 1-5";

const panels = [
  { box: [0, 0, 1820, 850], traces: [a1, a2, a3] },
  { box: [0, 850, 1820, 760], traces: [a4, a5, a6, a7] },
  { box: [0, 1610, 1820, 903], traces: [a8, a9, a10] },
  { box: [2030, 0, 1818, 900], traces: [b1, b2, b3, b4] },
  { box: [2030, 900, 1818, 800], traces: [b5, b6, b7] },
  { box: [2030, 1700, 1818, 813], traces: [b8, b9, b10] },
];

export default function App() {
  const ref = useRef<HTMLDivElement>(null);
  useEffect(() => {
    document.body.style.margin = "0";
    const chart = echarts.init(ref.current!, null, { renderer: "svg" });
    const span = { min: 0, max: 1568, show: false };
    chart.setOption({
      animation: false,
      backgroundColor: "#ffffff",
      grid: panels.map((p) => ({ left: p.box[0], top: p.box[1], width: p.box[2], height: p.box[3], containLabel: false })),
      xAxis: panels.map((_, i) => ({ type: "value", gridIndex: i, ...span })),
      yAxis: panels.map((_, i) => ({ type: "value", gridIndex: i, inverse: true, ...span })),
      series: panels.flatMap((p, i) =>
        p.traces.map((data) => ({
          type: "line",
          xAxisIndex: i,
          yAxisIndex: i,
          data,
          clip: false,
          smooth: 0.25,
          symbol: "none",
          showSymbol: false,
          silent: true,
          lineStyle: { color: "#1f77b4", width: 5, cap: "round", join: "round" },
        }))
      ),
      graphic: [
        { type: "text", x: 1028, y: 2417, style: { text: captionA, fill: "#000", font: "83.5px 'Liberation Sans'", textAlign: "center", textVerticalAlign: "middle" } },
        { type: "text", x: 3100, y: 2417, style: { text: captionB, fill: "#000", font: "83.5px 'Liberation Sans'", textAlign: "center", textVerticalAlign: "middle" } },
      ],
    });
    return () => chart.dispose();
  }, []);
  return <div ref={ref} style={{ position: "absolute", left: 0, top: 0, width: 3848, height: 2513 }} />;
}
